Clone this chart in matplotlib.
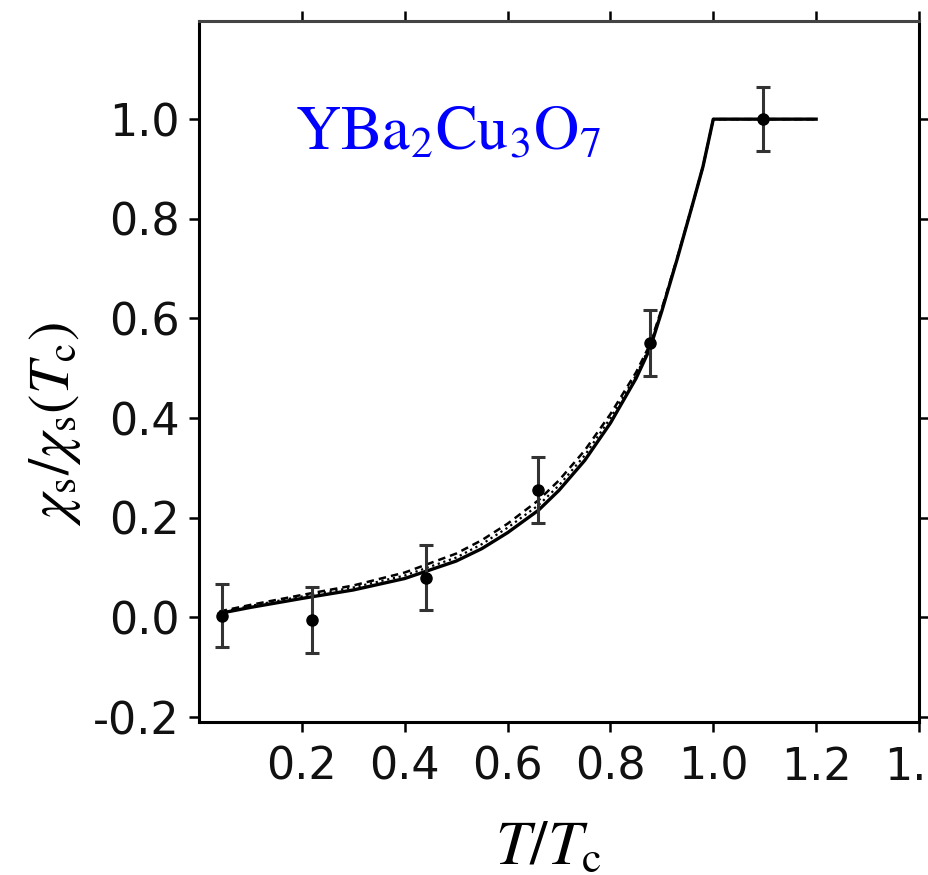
import numpy as np
import matplotlib
matplotlib.use("Agg")
import matplotlib.pyplot as plt

plt.rcParams['mathtext.fontset'] = 'stix'
plt.rcParams['font.family'] = ['DejaVu Sans']

# measured points (T/Tc, chi_s/chi_s(Tc), error)
x_pts = [0.044, 0.22, 0.442, 0.66, 0.877, 1.097]
y_pts = [0.003, -0.005, 0.08, 0.255, 0.55, 1.0]
y_err = [0.063, 0.066, 0.066, 0.066, 0.066, 0.064]

# theory curves
x_fit = [0.04, 0.1, 0.2, 0.3, 0.4, 0.5, 0.55, 0.6, 0.66, 0.7, 0.75, 0.8, 0.85,
         0.877, 0.9, 0.93, 0.96, 0.98, 1.0, 1.2]
y_solid = [0.008, 0.02, 0.038, 0.055, 0.078, 0.113, 0.138, 0.17, 0.215, 0.255,
           0.315, 0.39, 0.48, 0.54, 0.615, 0.72, 0.83, 0.905, 1.0, 1.0]
y_dash = [0.012, 0.025, 0.045, 0.064, 0.09, 0.128, 0.155, 0.188, 0.235, 0.275,
          0.335, 0.408, 0.492, 0.548, 0.62, 0.722, 0.83, 0.905, 1.0, 1.0]
y_dot = [0.010, 0.023, 0.042, 0.060, 0.084, 0.12, 0.147, 0.18, 0.225, 0.265,
         0.325, 0.40, 0.486, 0.545, 0.618, 0.721, 0.83, 0.905, 1.0, 1.0]

x_ticks = [0.2, 0.4, 0.6, 0.8, 1.0, 1.2, 1.4]
x_ticklabels = ['0.2', '0.4', '0.6', '0.8', '1.0', '1.2', '1.4']
y_ticks = [-0.2, 0.0, 0.2, 0.4, 0.6, 0.8, 1.0]
y_ticklabels = ['-0.2', '0.0', '0.2', '0.4', '0.6', '0.8', '1.0']

fig = plt.figure(figsize=(9.29, 8.75), dpi=100)
ax = fig.add_axes([199 / 929, 1 - 722 / 875, 720 / 929, 701 / 875])

ax.plot(x_fit, y_dot, color='black', lw=1.6, ls=':')
ax.plot(x_fit, y_dash, color='black', lw=1.8, ls=(0, (3, 2)))
ax.plot(x_fit, y_solid, color='black', lw=2.4)
ax.errorbar(x_pts, y_pts, yerr=y_err, fmt='o', color='black', ms=8,
            ecolor='#333333', elinewidth=2.2, capsize=5, capthick=2.2)

ax.set_xlim(0, 1.4)
ax.set_ylim(-0.21, 1.197)
ax.set_xticks(x_ticks)
ax.set_xticklabels(x_ticklabels)
ax.set_yticks(y_ticks)
ax.set_yticklabels(y_ticklabels)
ax.tick_params(direction='out', length=7, width=1.8, labelsize=32,
               top=True, right=True, labelcolor='#111111')
ax.tick_params(axis='x', pad=10)
ax.tick_params(axis='y', pad=7)
for s in ax.spines.values():
    s.set_linewidth(2.2)
ax.spines['top'].set_color('#444444')

ax.text(0.187, 0.94, r'$\mathrm{YBa_2Cu_3O_7}$', color='#0000ff', fontsize=45,
        va='baseline', ha='left')

fig.text(548 / 929, 1 - 864 / 875, r'$T/T_\mathrm{c}$', fontsize=45,
         ha='center', va='baseline')
fig.text(55 / 929, 1 - 424 / 875, r'$\chi_\mathrm{s}/\chi_\mathrm{s}(T_\mathrm{c})$',
         fontsize=42, rotation=90, ha='center', va='center')

fig.savefig('out.png', dpi=100)
